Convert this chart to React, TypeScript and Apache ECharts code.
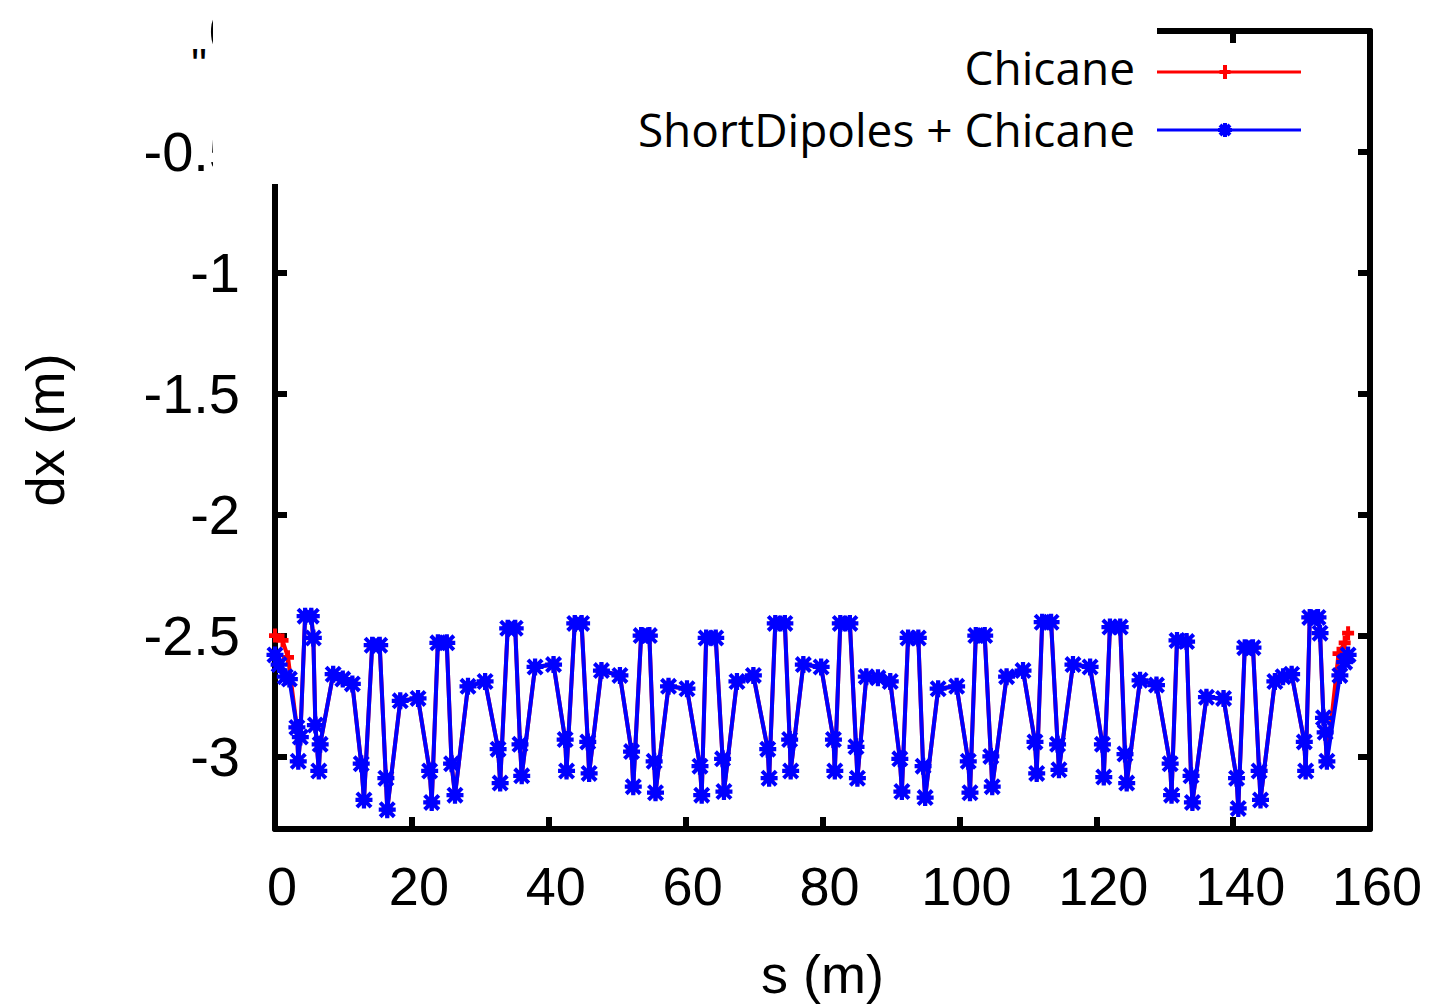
import React, { useEffect, useRef } from "react";
import * as echarts from "echarts";

// ---- axis ranges ----
const X_MIN = 0;
const X_MAX = 160;
const X_STEP = 20;
const Y_MIN = -3.3;
const Y_MAX = 0;

// ---- data: [s (m), dx (m)] ----
const shortDipolesStart: [number, number][] = [
  [0, -2.58], [0.6, -2.62], [1.5, -2.67], [2.1, -2.68],
];
const chicaneStart: [number, number][] = [
  [0, -2.5], [1.1, -2.52], [1.9, -2.59],
];
const latticeCells: [number, number][] = [
  [3.2, -2.88], [3.4, -3.02], [3.7, -2.92],
  [4.4, -2.42], [5.3, -2.42], [5.6, -2.51],
  [5.9, -2.87], [6.4, -3.06], [6.6, -2.95],
  [8.5, -2.66], [9.9, -2.68], [11.3, -2.7],
  [12.6, -3.03], [13.0, -3.18],
  [14.2, -2.54], [15.3, -2.54],
  [16.2, -3.09], [16.4, -3.22],
  [18.3, -2.77], [20.9, -2.76],
  [22.6, -3.06], [22.9, -3.19],
  [23.8, -2.53], [25.1, -2.53],
  [25.8, -3.03], [26.3, -3.16],
  [28.2, -2.71], [30.7, -2.69],
  [32.6, -2.97], [32.9, -3.11],
  [34.0, -2.47], [35.1, -2.47],
  [35.8, -2.95], [36.05, -3.08],
  [38.0, -2.63], [40.7, -2.62],
  [42.4, -2.93], [42.6, -3.06],
  [43.8, -2.45], [44.8, -2.45],
  [45.7, -2.94], [45.9, -3.07],
  [47.7, -2.645], [50.4, -2.665],
  [52.1, -2.98], [52.35, -3.125],
  [53.5, -2.5], [54.7, -2.5],
  [55.4, -3.02], [55.6, -3.15],
  [57.5, -2.71], [60.2, -2.72],
  [62.1, -3.04], [62.35, -3.16],
  [63.0, -2.51], [64.4, -2.51],
  [65.4, -3.01], [65.6, -3.145],
  [67.5, -2.69], [69.9, -2.665],
  [72.0, -2.97], [72.2, -3.09],
  [73.1, -2.45], [74.5, -2.45],
  [75.2, -2.93], [75.35, -3.06],
  [77.2, -2.62], [79.8, -2.63],
  [81.6, -2.93], [81.8, -3.06],
  [82.6, -2.45], [84.0, -2.45],
  [84.9, -2.96], [85.1, -3.09],
  [86.4, -2.67], [88.1, -2.675], [89.9, -2.69],
  [91.3, -3.01], [91.6, -3.145],
  [92.5, -2.51], [94.0, -2.51],
  [94.7, -3.04], [95.0, -3.17],
  [96.9, -2.72], [99.6, -2.71],
  [101.3, -3.02], [101.55, -3.15],
  [102.4, -2.5], [103.7, -2.5],
  [104.6, -3.0], [104.8, -3.125],
  [106.9, -2.67], [109.3, -2.645],
  [111.05, -2.94], [111.3, -3.07],
  [112.1, -2.445], [113.4, -2.445],
  [114.35, -2.95], [114.55, -3.055],
  [116.6, -2.62], [119.1, -2.63],
  [120.9, -2.95], [121.1, -3.085],
  [122.0, -2.465], [123.5, -2.465],
  [124.2, -2.99], [124.45, -3.11],
  [126.4, -2.685], [128.8, -2.705],
  [130.8, -3.03], [131.0, -3.16],
  [131.8, -2.52], [133.2, -2.525],
  [133.85, -3.08], [134.05, -3.19],
  [136.1, -2.755], [138.6, -2.76],
  [140.5, -3.09], [140.75, -3.215],
  [141.7, -2.55], [142.9, -2.55],
  [143.8, -3.06], [144.0, -3.18],
  [146.1, -2.69], [147.3, -2.67], [148.55, -2.66],
  [150.4, -2.94], [150.6, -3.06],
  [151.2, -2.425], [152.4, -2.425], [152.7, -2.49],
  [153.2, -2.84], [153.45, -2.9], [153.7, -3.02],
];
const shortDipolesEnd: [number, number][] = [
  [155.6, -2.665], [156.3, -2.61], [156.8, -2.58],
];
const chicaneEnd: [number, number][] = [
  [155.4, -2.575], [156.3, -2.53], [156.8, -2.49],
];

const chicaneData = [...chicaneStart, ...latticeCells, ...chicaneEnd];
const shortDipolesData = [...shortDipolesStart, ...latticeCells, ...shortDipolesEnd];

const SERIES_NAMES = ["Chicane", "ShortDipoles + Chicane"];
const RED = "#ff0000";
const BLUE = "#0000ff";

const ASTERISK =
  "path://M0 9H24V15H0Z M9 0H15V24H9Z M0 4L4 0L24 20L20 24Z M20 0L24 4L4 24L0 20Z";
const PLUS = "path://M0 8H24V16H0Z M8 0H16V24H8Z";

const TICK_FONT = "Liberation Sans";

export default function App() {
  const ref = useRef<HTMLDivElement>(null);

  useEffect(() => {
    if (!ref.current) return;
    const chart = echarts.init(ref.current, null, { renderer: "svg" });

    const axisLine = { show: true, onZero: false, lineStyle: { color: "#000", width: 6 } };
    const axisTick = { show: true, inside: true, length: 12, lineStyle: { color: "#000", width: 6 } };

    const option: any = {
      animation: false,
      grid: {
        left: 275,
        right: 69,
        top: 31,
        bottom: 179,
        containLabel: false,
        outerBoundsMode: "none",
      },
      xAxis: [
        {
          type: "value",
          position: "bottom",
          min: X_MIN,
          max: X_MAX,
          interval: X_STEP,
          name: "s (m)",
          nameLocation: "middle",
          nameGap: 118,
          nameTextStyle: { color: "#000", fontFamily: TICK_FONT, fontSize: 54 },
          axisLine,
          axisTick,
          axisLabel: {
            color: "#000",
            fontFamily: TICK_FONT,
            fontSize: 54,
            margin: 30,
            padding: [0, 0, 0, 14],
          },
          splitLine: { show: false },
        },
        {
          type: "value",
          position: "top",
          min: X_MIN,
          max: X_MAX,
          interval: X_STEP,
          axisLine,
          axisTick,
          axisLabel: { show: false },
          splitLine: { show: false },
        },
      ],
      yAxis: [
        {
          type: "value",
          position: "left",
          min: Y_MIN,
          max: Y_MAX,
          splitNumber: 7,
          name: "dx (m)",
          nameLocation: "middle",
          nameRotate: 90,
          nameGap: 203,
          nameTextStyle: { color: "#000", fontFamily: TICK_FONT, fontSize: 54 },
          axisLine,
          axisTick,
          axisLabel: {
            color: "#000",
            fontFamily: TICK_FONT,
            fontSize: 56,
            margin: 35,
            showMinLabel: false,
          },
          splitLine: { show: false },
        },
        {
          type: "value",
          position: "right",
          min: Y_MIN,
          max: Y_MAX,
          splitNumber: 7,
          axisLine,
          axisTick,
          axisLabel: { show: false },
          splitLine: { show: false },
        },
      ],
      series: [
        {
          type: "line",
          name: SERIES_NAMES[0],
          xAxisIndex: 0,
          yAxisIndex: 0,
          data: chicaneData,
          symbol: PLUS,
          symbolSize: [12, 14],
          showAllSymbol: true,
          lineStyle: { color: RED, width: 4 },
          itemStyle: { color: RED },
          z: 2,
        },
        {
          type: "line",
          name: SERIES_NAMES[1],
          xAxisIndex: 0,
          yAxisIndex: 0,
          data: shortDipolesData,
          symbol: ASTERISK,
          symbolSize: 17,
          showAllSymbol: true,
          lineStyle: { color: BLUE, width: 4 },
          itemStyle: { color: BLUE },
          z: 3,
        },
      ],
      graphic: [
        {
          type: "text",
          x: 199,
          y: 42,
          z: 99,
          style: {
            text: '"',
            fill: "#000",
            fontSize: 44,
            fontFamily: TICK_FONT,
            align: "center",
            verticalAlign: "top",
          },
        },
        {
          type: "rect",
          z: 100,
          shape: { x: 213, y: 0, width: 944, height: 184 },
          style: { fill: "#ffffff" },
        },
        {
          type: "text",
          x: 1135,
          y: 67,
          z: 101,
          style: {
            text: SERIES_NAMES[0],
            fill: "#000",
            fontSize: 46,
            fontFamily: "Open Sans",
            align: "right",
            verticalAlign: "middle",
          },
        },
        {
          type: "line",
          z: 101,
          shape: { x1: 1157, y1: 72, x2: 1301, y2: 72 },
          style: { stroke: RED, lineWidth: 3 },
        },
        {
          type: "rect",
          z: 102,
          shape: { x: 1219.5, y: 70, width: 11, height: 4 },
          style: { fill: RED },
        },
        {
          type: "rect",
          z: 102,
          shape: { x: 1223, y: 65, width: 4, height: 14 },
          style: { fill: RED },
        },
        {
          type: "text",
          x: 1135,
          y: 129,
          z: 101,
          style: {
            text: SERIES_NAMES[1],
            fill: "#000",
            fontSize: 46,
            fontFamily: "Open Sans",
            align: "right",
            verticalAlign: "middle",
          },
        },
        {
          type: "line",
          z: 101,
          shape: { x1: 1157, y1: 130, x2: 1301, y2: 130 },
          style: { stroke: BLUE, lineWidth: 3 },
        },
        {
          type: "line",
          z: 102,
          shape: { x1: 1218, y1: 130, x2: 1232, y2: 130 },
          style: { stroke: BLUE, lineWidth: 4 },
        },
        {
          type: "line",
          z: 102,
          shape: { x1: 1225, y1: 123, x2: 1225, y2: 137 },
          style: { stroke: BLUE, lineWidth: 4 },
        },
        {
          type: "line",
          z: 102,
          shape: { x1: 1220, y1: 125, x2: 1230, y2: 135 },
          style: { stroke: BLUE, lineWidth: 4 },
        },
        {
          type: "line",
          z: 102,
          shape: { x1: 1230, y1: 125, x2: 1220, y2: 135 },
          style: { stroke: BLUE, lineWidth: 4 },
        },
      ],
    };

    chart.setOption(option);
    return () => chart.dispose();
  }, []);

  return (
    <div
      ref={ref}
      style={{ position: "absolute", left: 0, top: 0, width: 1439, height: 1008 }}
    />
  );
}
